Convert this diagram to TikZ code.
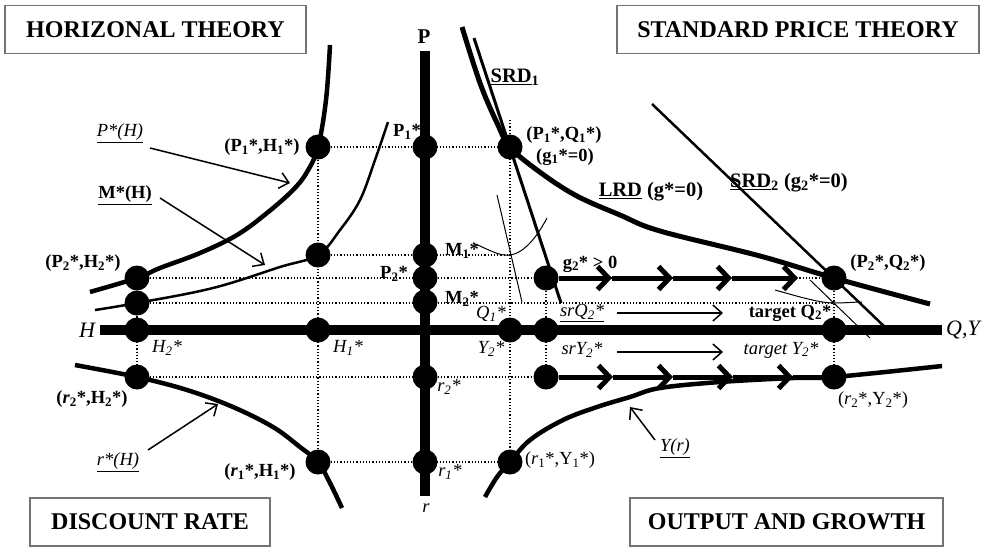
\documentclass[tikz,border=0pt]{standalone}
\usepackage{fontspec}
\setmainfont{Liberation Serif}
\usetikzlibrary{arrows.meta}
\newcommand{\sbx}[1]{\textsubscript{#1}}
\begin{document}
\begin{tikzpicture}[x=1pt,y=-1pt,
  dot/.style={circle,fill=black,inner sep=0pt,minimum size=25pt},
  gridl/.style={line width=1.2pt,dotted},
  axis/.style={line width=9.5pt},
  lab/.style={font=\fontsize{18.5}{20}\selectfont\bfseries, inner sep=1pt},
  blab/.style={font=\fontsize{20.5}{22}\selectfont\bfseries, inner sep=1pt},
  rlab/.style={font=\fontsize{18.5}{20}\selectfont, inner sep=1pt},
  ilab/.style={font=\fontsize{18.5}{20}\selectfont\itshape, inner sep=1pt},
  biglab/.style={font=\fontsize{22}{24}\selectfont\itshape, inner sep=1pt},
  titlebox/.style={draw=black!55,line width=1.5pt,font=\fontsize{24}{28}\selectfont\bfseries,minimum height=48pt,inner sep=0pt},
  ptr/.style={line width=1.5pt,-{Straight Barb[length=9pt,width=16pt]}},
  flow/.style={line width=5pt,-{Straight Barb[length=11pt,width=23pt]}},
  hair/.style={line width=1pt},
]
\useasboundingbox (0,0) rectangle (992,547);

% title boxes
\node[titlebox,minimum width=301pt] (tH) at (155.5,29.5) {HORIZONAL THEORY};
\node[titlebox,minimum width=362pt] (tS) at (798,29.5) {STANDARD PRICE THEORY};
\node[titlebox,minimum width=240pt] (tD) at (150,522) {DISCOUNT RATE};
\node[titlebox,minimum width=313pt] (tO) at (786.5,522) {OUTPUT AND GROWTH};

% dots
\node[dot] (dP1H1) at (318,147) {};
\node[dot] (dP1) at (425,147) {};
\node[dot] (dP1Q1) at (510,147) {};
\node[dot] (dP2H2) at (137,278) {};
\node[dot] (dM2H) at (137,303) {};
\node[dot] (dH2) at (137,330) {};
\node[dot] (dr2H2) at (137,377) {};
\node[dot] (dMH1) at (318,255) {};
\node[dot] (dH1) at (318,330) {};
\node[dot] (dr1H1) at (318,462) {};
\node[dot] (dM1) at (425,255) {};
\node[dot] (dP2) at (425,278) {};
\node[dot] (dM2) at (425,302) {};
\node[dot] (dr2) at (425,377) {};
\node[dot] (dr1) at (425,462) {};
\node[dot] (dQ1) at (510,330) {};
\node[dot] (dsrQ) at (546,330) {};
\node[dot] (dg2) at (546,278) {};
\node[dot] (dsrY) at (546,377) {};
\node[dot] (dr1Y1) at (510,462) {};
\node[dot] (dP2Q2) at (834,278) {};
\node[dot] (dQ2) at (834,330) {};
\node[dot] (dr2Y2) at (834,377) {};

% grid coordinates
\coordinate (cM1) at (510,255);
\coordinate (cM2r) at (834,303);
\coordinate (cQ1top) at (510,120);

% dotted grid
\draw[gridl] (dP1H1.center) -- (dP1Q1.center);
\draw[gridl] (dP1H1.center) -- (dr1H1.center);
\draw[gridl] (dMH1.center) -- (cM1);
\draw[gridl] (dP2H2.center) -- (dP2Q2.center);
\draw[gridl] (dM2H.center) -- (cM2r);
\draw[gridl] (dP2H2.center) -- (dr2H2.center);
\draw[gridl] (dr2H2.center) -- (dsrY.center);
\draw[gridl] (dr1H1.center) -- (dr1Y1.center);
\draw[gridl] (cQ1top) -- (dr1Y1.center);
\draw[gridl] (dg2.center) -- (dsrY.center);
\draw[gridl] (dP2Q2.center) -- (dr2Y2.center);

% axes
\coordinate (Ptop) at (425,51);
\coordinate (rbot) at (425,496);
\coordinate (Hl) at (100,330);
\coordinate (QYr) at (942,330);
\draw[axis] (Ptop) -- (rbot);
\draw[axis] (Hl) -- (QYr);

% curves
\draw[line width=4.5pt] plot[smooth,tension=0.6] coordinates {(330,45) (326,100) (318,147) (307,172) (293,190) (267,213) (237,235) (200,253) (160,268) (137,278) (90,292)};
\draw[line width=2.5pt] plot[smooth,tension=0.6] coordinates {(95,310) (137,303) (213,288) (280,267) (318,255) (340,230) (360,200) (375,160) (388,122)};
\draw[line width=4.5pt] plot[smooth,tension=0.6] coordinates {(75,365) (137,377) (187,390) (233,407) (273,427) (300,447) (318,462) (330,483) (342,508)};
\draw[line width=4.5pt] plot[smooth,tension=0.6] coordinates {(485,497) (497,477) (510,462) (530,440) (563,420) (597,407) (630,397) (660,388) (720,382) (793,378) (834,377) (942,366)};
\draw[line width=5pt] plot[smooth,tension=0.6] coordinates {(462,27) (480,83) (497,123) (510,147) (537,170) (575,195) (620,215) (660,231) (760,256) (834,278) (930,304)};

% short-run demand lines
\coordinate (s1a) at (474,38);
\coordinate (s1b) at (561,303);
\draw[line width=3pt] (s1a) -- (s1b);
\coordinate (s2a) at (652,104);
\coordinate (s2b) at (888,330);
\draw[line width=2.5pt] (s2a) -- (s2b);

% thin lines
\draw[hair] (497,195) -- (522,302);
\draw[hair] (473,243) .. controls (490,250) and (498,256) .. (510,255) .. controls (525,253) and (538,235) .. (547,218);
\draw[hair] (775,290) .. controls (800,297) and (820,303) .. (834,303) .. controls (845,303) and (855,302) .. (862,302);
\draw[hair] (810,280) -- (870,338);

% flow arrows
\coordinate (g1) at (612,278);
\coordinate (g2) at (673,278);
\coordinate (g3) at (732,278);
\coordinate (g4) at (798,278);
\draw[flow] (dg2) -- (g1);
\draw[flow] (g1) -- (g2);
\draw[flow] (g2) -- (g3);
\draw[flow] (g3) -- (g4);
\coordinate (b1) at (613,377);
\coordinate (b2) at (673,377);
\coordinate (b3) at (733,377);
\coordinate (b4) at (793,377);
\draw[flow] (dsrY) -- (b1);
\draw[flow] (b1) -- (b2);
\draw[flow] (b2) -- (b3);
\draw[flow] (b3) -- (b4);
\draw[line width=5pt] (b4) -- (dr2Y2.center);

% labels
\node[lab] (lP1H1) at (262,147) {(P\sbx1*,H\sbx1*)};
\node[lab] (lP1) at (407,132) {P\sbx1*};
\node[lab] (lP1Q1) at (564,135) {(P\sbx1*,Q\sbx1*)};
\node[lab] (lg1) at (565,157) {(g\sbx1*=0)};
\node[blab] (lSRD1) at (515,77) {\underline{SRD}\sbx1};
\node[blab] (lLRD) at (651,192) {\underline{LRD} (g*=0)};
\node[blab] (lSRD2) at (789,183) {\underline{SRD}\sbx2 (g\sbx2*=0)};
\node[ilab] (lPH) at (120,133) {\underline{P*(H)}};
\node[lab] (lMH) at (125,195) {\underline{M*(H)}};
\node[lab] (lP2H2) at (83,263) {(P\sbx2*,H\sbx2*)};
\node[biglab] (lH) at (87,330) {H};
\node[ilab] (lH2) at (167,348) {H\sbx2*};
\node[ilab] (lH1) at (348,348) {H\sbx1*};
\node[lab] (lM1) at (462,251) {M\sbx1*};
\node[lab] (lP2) at (394,274) {P\sbx2*};
\node[lab] (lM2) at (462,299) {M\sbx2*};
\node[ilab] (lQ1) at (491,314) {Q\sbx1*};
\node[ilab] (lY2) at (491,349) {Y\sbx2*};
\node[ilab] (lsrQ) at (582,313) {\underline{srQ\sbx2*}};
\node[ilab] (lsrY) at (582,350) {srY\sbx2*};
\node[lab] (ltQ) at (790,313) {target Q\sbx2*};
\node[ilab] (ltY) at (781,350) {target Y\sbx2*};
\node[lab] (lg2) at (590,264) {g\sbx2* > 0};
\node[lab] (lP2Q2) at (888,263) {(P\sbx2*,Q\sbx2*)};
\node[lab] (lr2H2) at (92,399) {(\textit{r}\sbx2*,H\sbx2*)};
\node[ilab] (lrH) at (118,462) {\underline{r*(H)}};
\node[lab] (lr1H1) at (260,472) {(\textit{r}\sbx1*,H\sbx1*)};
\node[ilab] (lr2) at (449,387) {r\sbx2*};
\node[ilab] (lr1) at (450,472) {r\sbx1*};
\node[ilab] (lr) at (426,508) {r};
\node[rlab] (lr1Y1) at (560,460) {(\textit{r}\sbx1*,Y\sbx1*)};
\node[ilab] (lYr) at (675,448) {\underline{Y(r)}};
\node[rlab] (lr2Y2) at (873,400) {(\textit{r}\sbx2*,Y\sbx2*)};
\node[lab,font=\fontsize{21}{23}\selectfont\bfseries] (lPax) at (424,37) {P};
\node[biglab] (lQY) at (963,330) {Q,Y};

% thin arrows between sr and target labels
\coordinate (aQs) at (617,313);
\coordinate (aQe) at (723,313);
\coordinate (aYs) at (617,352);
\coordinate (aYe) at (723,352);
\draw[ptr] (aQs) -- (aQe);
\draw[ptr] (aYs) -- (aYe);

% pointer arrows
\coordinate (pPe) at (290,183);
\coordinate (pMe) at (265,265);
\coordinate (prHe) at (218,404);
\coordinate (pYe) at (630,407);
\draw[ptr] (150,148) -- (pPe);
\draw[ptr] (160,198) -- (pMe);
\draw[ptr] (148,450) -- (prHe);
\draw[ptr] (655,440) -- (pYe);
\end{tikzpicture}
\end{document}
